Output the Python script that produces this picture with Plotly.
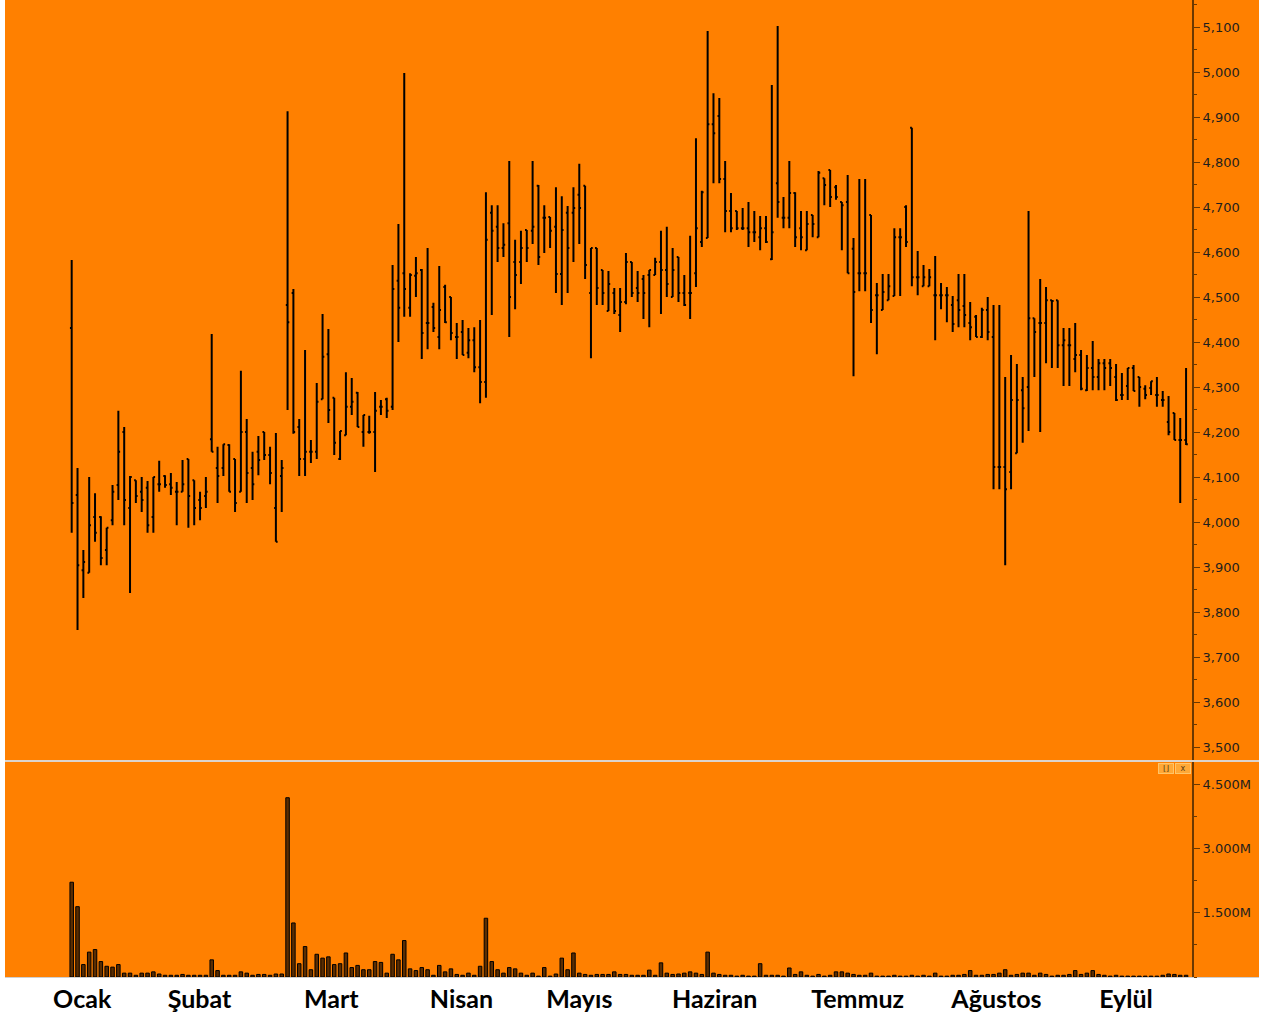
import plotly.graph_objects as go

# ---------------- data ----------------
opens = [4431, 4060, 3893, 3887, 4011, 4011, 3938, 4004, 4082, 4200,
         4031, 4093, 4067, 4076, 4011, 4084, 4102, 4084, 4067, 4067,
         4140, 4093, 4049, 4058, 4184, 4120, 4120, 4171, 4140, 4067,
         4200, 4120, 4156, 4200, 4149, 4031, 4102, 4482, 4509, 4211,
         4140, 4156, 4156, 4273, 4373, 4276, 4140, 4193, 4256, 4287,
         4200, 4200, 4200, 4256, 4273, 4256, 4536, 4553, 4476, 4547,
         4560, 4442, 4478, 4411, 4522, 4500, 4411, 4422, 4376, 4404,
         4344, 4311, 4687, 4656, 4609, 4664, 4578, 4578, 4649, 4647,
         4747, 4676, 4678, 4656, 4551, 4687, 4687, 4727, 4747, 4509,
         4609, 4560, 4469, 4509, 4460, 4489, 4578, 4520, 4540, 4549,
         4549, 4578, 4560, 4500, 4589, 4509, 4509, 4553, 4622, 4631,
         4884, 4902, 4762, 4691, 4691, 4653, 4653, 4644, 4633, 4653,
         4584, 4753, 4676, 4676, 4731, 4653, 4604, 4682, 4633, 4764,
         4782, 4744, 4711, 4711, 4607, 4553, 4553, 4682, 4504, 4471,
         4493, 4502, 4633, 4700, 4876, 4544, 4524, 4524, 4504, 4504,
         4504, 4482, 4493, 4480, 4442, 4456, 4411, 4471, 4411, 4122,
         4122, 4111, 4153, 4293, 4300, 4453, 4442, 4442, 4493, 4493,
         4393, 4393, 4362, 4371, 4293, 4342, 4322, 4353, 4353, 4322,
         4282, 4302, 4342, 4322, 4296, 4298, 4282, 4271, 4222, 4242,
         4182, 4182]
highs = [4582, 4120, 3938, 4100, 4064, 4013, 3987, 4082, 4247, 4211,
         4102, 4093, 4100, 4091, 4100, 4136, 4104, 4109, 4089, 4138,
         4140, 4093, 4067, 4100, 4418, 4167, 4173, 4173, 4140, 4336,
         4229, 4156, 4191, 4200, 4167, 4198, 4138, 4913, 4518, 4229,
         4382, 4182, 4309, 4462, 4429, 4276, 4202, 4333, 4320, 4289,
         4238, 4236, 4289, 4271, 4276, 4571, 4662, 4998, 4553, 4589,
         4562, 4609, 4487, 4569, 4527, 4500, 4442, 4449, 4431, 4433,
         4449, 4733, 4704, 4704, 4664, 4802, 4627, 4647, 4649, 4802,
         4749, 4704, 4678, 4744, 4724, 4702, 4744, 4796, 4747, 4609,
         4609, 4560, 4558, 4520, 4520, 4598, 4578, 4558, 4549, 4560,
         4587, 4647, 4656, 4609, 4589, 4549, 4636, 4853, 4736, 5091,
         4953, 4942, 4802, 4731, 4691, 4698, 4711, 4691, 4680, 4680,
         4971, 5102, 4722, 4802, 4733, 4691, 4691, 4682, 4780, 4764,
         4782, 4749, 4711, 4771, 4631, 4762, 4762, 4682, 4531, 4551,
         4551, 4653, 4653, 4704, 4876, 4602, 4571, 4562, 4591, 4531,
         4522, 4502, 4551, 4551, 4489, 4460, 4476, 4500, 4482, 4482,
         4322, 4371, 4351, 4322, 4691, 4453, 4540, 4522, 4493, 4493,
         4431, 4431, 4442, 4382, 4371, 4402, 4362, 4362, 4362, 4351,
         4331, 4342, 4349, 4322, 4304, 4313, 4322, 4291, 4280, 4242,
         4231, 4342]
lows = [3976, 3760, 3831, 3887, 3956, 3904, 3904, 3993, 4049, 3993,
        3842, 4042, 4022, 3976, 3976, 4067, 4076, 4060, 3993, 4067,
        3987, 3993, 4004, 4031, 4156, 4042, 4102, 4067, 4022, 4067,
        4042, 4049, 4104, 4138, 4084, 3956, 4022, 4249, 4196, 4102,
        4102, 4131, 4140, 4273, 4220, 4149, 4138, 4193, 4238, 4211,
        4167, 4196, 4111, 4238, 4231, 4249, 4400, 4456, 4456, 4500,
        4362, 4384, 4422, 4384, 4442, 4404, 4362, 4371, 4364, 4333,
        4264, 4276, 4460, 4578, 4589, 4411, 4473, 4529, 4578, 4618,
        4571, 4598, 4609, 4509, 4482, 4509, 4578, 4618, 4540, 4364,
        4482, 4482, 4469, 4462, 4422, 4484, 4500, 4489, 4451, 4433,
        4549, 4462, 4500, 4500, 4489, 4480, 4451, 4522, 4611, 4631,
        4753, 4753, 4644, 4644, 4649, 4649, 4611, 4622, 4604, 4620,
        4582, 4676, 4653, 4653, 4611, 4604, 4604, 4633, 4633, 4704,
        4700, 4716, 4604, 4553, 4324, 4513, 4513, 4442, 4373, 4471,
        4493, 4502, 4502, 4611, 4524, 4504, 4524, 4524, 4404, 4473,
        4444, 4422, 4433, 4433, 4404, 4411, 4409, 4404, 4073, 4073,
        3904, 4073, 4153, 4176, 4202, 4322, 4200, 4353, 4342, 4342,
        4302, 4302, 4333, 4293, 4291, 4293, 4293, 4293, 4302, 4269,
        4271, 4271, 4291, 4256, 4273, 4282, 4256, 4256, 4193, 4182,
        4042, 4171]
closes = [4042, 3904, 3911, 3993, 3976, 3920, 3987, 4067, 4156, 4049,
          4100, 4058, 4049, 3993, 4100, 4084, 4082, 4076, 4067, 4084,
          4058, 4031, 4031, 4067, 4156, 4102, 4173, 4067, 4042, 4200,
          4109, 4084, 4138, 4149, 4109, 3956, 4120, 4444, 4200, 4140,
          4156, 4156, 4267, 4367, 4249, 4176, 4202, 4256, 4267, 4211,
          4238, 4200, 4247, 4256, 4247, 4518, 4476, 4518, 4549, 4553,
          4420, 4442, 4431, 4471, 4444, 4420, 4411, 4371, 4404, 4344,
          4311, 4627, 4647, 4609, 4616, 4500, 4549, 4609, 4609, 4656,
          4589, 4676, 4647, 4551, 4649, 4609, 4698, 4698, 4571, 4609,
          4520, 4509, 4529, 4469, 4489, 4578, 4509, 4509, 4509, 4560,
          4578, 4560, 4529, 4560, 4509, 4482, 4509, 4653, 4733, 4884,
          4864, 4762, 4691, 4653, 4653, 4653, 4644, 4644, 4653, 4622,
          4644, 4711, 4676, 4731, 4633, 4633, 4662, 4662, 4776, 4749,
          4722, 4722, 4704, 4553, 4511, 4553, 4553, 4471, 4504, 4511,
          4524, 4633, 4633, 4622, 4544, 4544, 4544, 4544, 4504, 4504,
          4504, 4440, 4471, 4460, 4433, 4411, 4471, 4422, 4122, 4122,
          4073, 4271, 4271, 4253, 4453, 4422, 4442, 4493, 4491, 4393,
          4404, 4393, 4371, 4296, 4342, 4322, 4353, 4342, 4342, 4271,
          4282, 4342, 4291, 4300, 4282, 4313, 4282, 4271, 4200, 4182,
          4182, 4173]
volume_m = [2.21, 1.64, 0.29, 0.58, 0.64, 0.36, 0.25, 0.23, 0.29, 0.09,
            0.09, 0.04, 0.09, 0.09, 0.12, 0.07, 0.04, 0.04, 0.04, 0.06,
            0.04, 0.04, 0.04, 0.04, 0.40, 0.15, 0.04, 0.04, 0.04, 0.12,
            0.09, 0.04, 0.06, 0.06, 0.04, 0.07, 0.07, 4.18, 1.26, 0.31,
            0.71, 0.17, 0.53, 0.44, 0.47, 0.29, 0.31, 0.56, 0.22, 0.27,
            0.17, 0.17, 0.36, 0.34, 0.09, 0.53, 0.40, 0.85, 0.19, 0.15,
            0.22, 0.17, 0.04, 0.27, 0.12, 0.19, 0.06, 0.04, 0.09, 0.04,
            0.25, 1.37, 0.36, 0.17, 0.09, 0.22, 0.19, 0.09, 0.04, 0.09,
            0.02, 0.22, 0.02, 0.07, 0.44, 0.17, 0.56, 0.09, 0.06, 0.04,
            0.06, 0.06, 0.06, 0.12, 0.06, 0.06, 0.04, 0.04, 0.04, 0.16,
            0.04, 0.33, 0.09, 0.06, 0.07, 0.09, 0.12, 0.09, 0.06, 0.58,
            0.09, 0.06, 0.04, 0.04, 0.02, 0.04, 0.02, 0.02, 0.31, 0.04,
            0.04, 0.04, 0.02, 0.21, 0.06, 0.12, 0.04, 0.02, 0.06, 0.02,
            0.04, 0.12, 0.12, 0.09, 0.06, 0.04, 0.04, 0.09, 0.02, 0.02,
            0.02, 0.04, 0.02, 0.02, 0.04, 0.02, 0.04, 0.02, 0.09, 0.02,
            0.02, 0.04, 0.04, 0.06, 0.15, 0.04, 0.04, 0.06, 0.06, 0.09,
            0.17, 0.04, 0.06, 0.09, 0.09, 0.04, 0.09, 0.06, 0.02, 0.04,
            0.04, 0.06, 0.15, 0.06, 0.09, 0.15, 0.06, 0.04, 0.02, 0.04,
            0.02, 0.02, 0.02, 0.02, 0.02, 0.02, 0.02, 0.04, 0.07, 0.06,
            0.04, 0.04]

month_labels = ["Ocak", "Şubat", "Mart", "Nisan", "Mayıs", "Haziran",
                "Temmuz", "Ağustos", "Eylül"]
month_label_pos = [1.8, 21.9, 44.5, 66.8, 87.0, 110.2, 134.7, 158.5, 180.7]

price_ticks = list(range(3500, 5101, 100))
volume_ticks = [1.5e6, 3.0e6, 4.5e6]
volume_tick_text = ["1.500M", "3.000M", "4.500M"]

n = len(opens)
assert len(highs) == n and len(lows) == n and len(closes) == n and len(volume_m) == n
idx = list(range(n))
volumes = [v * 1e6 for v in volume_m]

# ---------------- styling ----------------
ORANGE = "#FF8000"
AXIS = "#6b3800"
TXT = "#1e1e1e"
W, H = 1270, 1016
ml, mr, mt, mb = 5, 11, 0, 39
plot_h = H - mt - mb
plot_w = W - ml - mr

def ypaper(px):
    return (H - mb - px) / plot_h

def xpaper(px):
    return (px - ml) / plot_w

axis_pos = xpaper(1193)

fig = go.Figure()
fig.add_trace(go.Ohlc(
    x=idx, open=opens, high=highs, low=lows, close=closes,
    xaxis="x", yaxis="y",
    increasing=dict(line=dict(color="black", width=2)),
    decreasing=dict(line=dict(color="black", width=2)),
    tickwidth=0.3, hoverinfo="skip", showlegend=False,
))
fig.add_trace(go.Bar(
    x=idx, y=volumes, xaxis="x2", yaxis="y2", width=0.6,
    marker=dict(color="#5c2d00", line=dict(color="black", width=1)),
    hoverinfo="skip", showlegend=False,
))

btn = dict(xref="paper", yref="paper", showarrow=False, xanchor="center",
           yanchor="middle", bgcolor="#ffa836", bordercolor="#ffc468",
           borderwidth=1, borderpad=1, width=12, height=7,
           font=dict(size=8, color="#5a3a10", family="DejaVu Sans"))

xr = [-11.43, 203.5]
fig.update_layout(
    width=W, height=H,
    margin=dict(l=ml, r=mr, t=mt, b=mb),
    paper_bgcolor="white", plot_bgcolor=ORANGE,
    showlegend=False,
    xaxis=dict(domain=[0, 1], range=xr, anchor="y", showticklabels=False,
               showgrid=False, zeroline=False, showline=False, ticks="",
               rangeslider=dict(visible=False), fixedrange=True),
    xaxis2=dict(domain=[0, 1], range=xr, anchor="y2", matches="x",
                tickmode="array", tickvals=month_label_pos, ticktext=month_labels,
                ticks="", showgrid=False, zeroline=False,
                showline=True, linecolor="#cfcfcf", linewidth=1,
                tickfont=dict(family="Lato", size=25, color="black", weight="bold")),
    yaxis=dict(domain=[ypaper(760), 1], range=[3471.1, 5160], anchor="free",
               position=axis_pos, side="right",
               tickmode="array", tickvals=price_ticks, tickformat=",",
               ticks="outside", ticklen=6, tickwidth=1, tickcolor=AXIS,
               showline=True, linecolor=AXIS, linewidth=2,
               showgrid=False, zeroline=False,
               minor=dict(dtick=50, tick0=0, ticks="outside", ticklen=3,
                          tickcolor=AXIS, tickwidth=1, showgrid=False),
               tickfont=dict(family="DejaVu Sans", size=13, color=TXT)),
    yaxis2=dict(domain=[0, ypaper(762)], range=[0, 5.013e6], anchor="free",
                position=axis_pos, side="right",
                tickmode="array", tickvals=volume_ticks, ticktext=volume_tick_text,
                ticks="outside", ticklen=6, tickwidth=1, tickcolor=AXIS,
                showline=True, linecolor=AXIS, linewidth=2,
                showgrid=False, zeroline=False,
                minor=dict(dtick=750000, tick0=0, ticks="outside", ticklen=3,
                           tickcolor=AXIS, tickwidth=1, showgrid=False),
                tickfont=dict(family="DejaVu Sans", size=13, color=TXT)),
    shapes=[
        dict(type="line", xref="paper", yref="paper", x0=0, x1=1,
             y0=ypaper(761), y1=ypaper(761),
             line=dict(color="#dcd4cc", width=2)),
    ],
    annotations=[
        dict(btn, x=xpaper(1165.5), y=ypaper(768.5), text="[]"),
        dict(btn, x=xpaper(1183), y=ypaper(768.5), text="x"),
    ],
)

fig.write_html(
    "out.html",
    config={"displayModeBar": False},
    post_script="document.body.style.margin='0';document.body.style.padding='0';",
)
